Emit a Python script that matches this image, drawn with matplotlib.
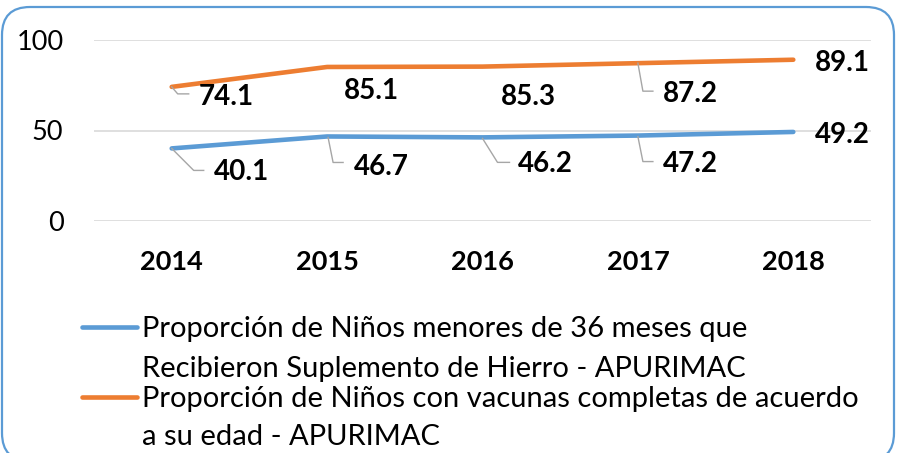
import matplotlib
matplotlib.use('Agg')
import matplotlib.pyplot as plt
from matplotlib.patches import FancyBboxPatch
from matplotlib.lines import Line2D
from matplotlib.transforms import IdentityTransform

# ---- data ----
years = ['2014', '2015', '2016', '2017', '2018']
hierro = [40.1, 46.7, 46.2, 47.2, 49.2]
vacunas = [74.1, 85.1, 85.3, 87.2, 89.1]
yticks = [0, 50, 100]
series_labels = [
    ["Proporción de Niños menores de 36 meses que",
     "Recibieron Suplemento de Hierro - APURIMAC"],
    ["Proporción de Niños con vacunas completas de acuerdo",
     "a su edad - APURIMAC"],
]

# ---- style ----
W, H = 897, 453
BLUE = '#5B9BD5'
ORANGE = '#ED7D31'
GRID = '#D9D9D9'
LEADER = '#A6A6A6'
FONT = ['Lato', 'DejaVu Sans']

# label offsets in pixels (dx right, dy down to baseline) and leader vertices
lab_off_v = [(55, 18), (44, 32), (46, 38), (52, 39), (49, 11)]
lab_off_h = [(70, 32), (54, 39), (63, 35), (52, 36), (49, 11)]
lead_v = [[(0, 0), (6, 7), (17, 7)], None, None, [(0, 0), (5, 28), (15, 28)], None]
lead_h = [[(0, 0), (22, 22), (32, 22)], [(1, 1), (6, 26), (16, 26)],
          [(0, 1), (15, 25), (27, 25)], [(0, 1), (5, 26), (15, 26)], None]

plt.rcParams['font.family'] = FONT

fig = plt.figure(figsize=(W / 100, H / 100), dpi=100)
ax = fig.add_axes([94 / W, 1 - 221 / H, 777 / W, 181 / H])
xs = list(range(len(years)))

ax.set_xlim(-0.5, len(years) - 0.5)
ax.set_ylim(0, 100)
ax.set_yticks(yticks)
ax.set_yticklabels([str(t) for t in yticks], fontsize=19.5)
ax.set_xticks(xs)
ax.set_xticklabels(years, fontsize=19.5, fontweight='bold')
ax.tick_params(axis='both', length=0)
ax.tick_params(axis='y', pad=22)
ax.tick_params(axis='x', pad=21)
for s in ax.spines.values():
    s.set_visible(False)
ax.grid(axis='y', color=GRID, lw=1.2)
ax.set_axisbelow(True)

ax.plot(xs, hierro, color=BLUE, lw=3.3, solid_capstyle='round', zorder=3)
ax.plot(xs, vacunas, color=ORANGE, lw=3.3, solid_capstyle='round', zorder=3)

fig.canvas.draw()


def add_labels(vals, offs, leads):
    for i, v in enumerate(vals):
        dx, dy = offs[i]
        ax.annotate(f'{v:.1f}', xy=(i, v), xytext=(dx, -dy),
                    textcoords='offset pixels', ha='center', va='baseline',
                    fontsize=20, fontweight='bold', color='black', zorder=5)
        if leads[i] is not None:
            px, py = ax.transData.transform((i, v))
            lx = [px + a for a, b in leads[i]]
            ly = [py - b for a, b in leads[i]]
            fig.add_artist(Line2D(lx, ly, transform=IdentityTransform(),
                                  color=LEADER, lw=1.0, zorder=4))


add_labels(vacunas, lab_off_v, lead_v)
add_labels(hierro, lab_off_h, lead_h)

# ---- legend (manual, handle aligned with first line) ----
leg_colors = [BLUE, ORANGE]
leg_baselines = [[337, 377], [407, 445]]
for col, lines, bases in zip(leg_colors, series_labels, leg_baselines):
    hy = H - (bases[0] - 10)
    fig.add_artist(Line2D([82, 137], [hy, hy], transform=IdentityTransform(),
                          color=col, lw=3.3, solid_capstyle='round'))
    for txt, b in zip(lines, bases):
        fig.text(142 / W, 1 - b / H, txt, fontsize=21, va='baseline',
                 ha='left', color='black')

# ---- rounded border ----
border = FancyBboxPatch((2, -8), 892, 454, boxstyle='round,pad=0,rounding_size=28',
                        transform=IdentityTransform(), fill=False,
                        edgecolor=BLUE, lw=1.6)
fig.add_artist(border)

fig.savefig('out.png', dpi=100, facecolor='white')
